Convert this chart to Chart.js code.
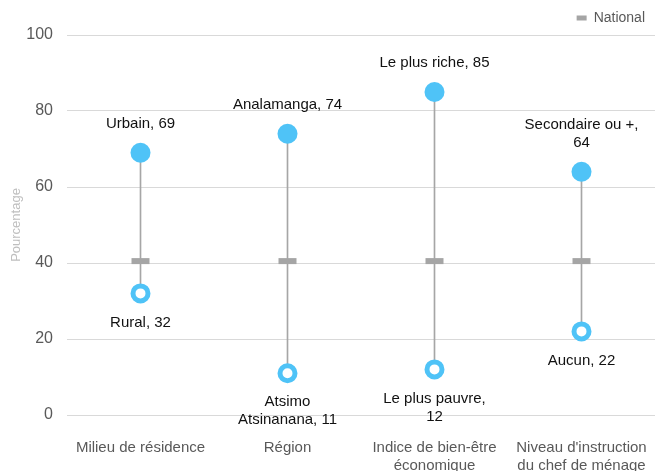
<!DOCTYPE html>
<html>
<head>
<meta charset="utf-8">
<script src="https://cdn.jsdelivr.net/npm/chart.js@4.4.1/dist/chart.umd.min.js"></script>
<style>
  html, body { margin: 0; padding: 0; background: #fff; }
  #wrap { width: 655px; height: 471px; position: relative; }
</style>
</head>
<body>
<div id="wrap"><canvas id="chart"></canvas></div>
<script>
var CATEGORIES = [
  ['Milieu de résidence'],
  ['Région'],
  ['Indice de bien-être', 'économique'],
  ["Niveau d'instruction", 'du chef de ménage']
];
var HIGH_VALUES = [69, 74, 85, 64];
var LOW_VALUES = [32, 11, 12, 22];
var NATIONAL = [40.5, 40.5, 40.5, 40.5];
// label text, "\n" marks where the original wraps
var HIGH_NAMES = ['Urbain, ', 'Analamanga, ', 'Le plus riche, ', 'Secondaire ou +,\n'];
var LOW_NAMES = ['Rural, ', 'Atsimo\nAtsinanana, ', 'Le plus pauvre,\n', 'Aucun, '];
var Y_TICKS = [0, 20, 40, 60, 80, 100];

var BLUE = '#4fc3f7';
var GREY_MARK = '#a5a5a5';
var FONT = '"Liberation Sans", Arial, sans-serif';

var LABEL_GAP = 29;
var LINE_H = 18;

var pointLabels = {
  id: 'pointLabels',
  afterDatasetsDraw: function (chart) {
    var c = chart.ctx;
    c.save();
    c.font = '15px ' + FONT;
    c.fillStyle = '#111111';
    c.textAlign = 'center';
    c.textBaseline = 'middle';
    chart.getDatasetMeta(0).data.forEach(function (pt, i) {
      var lines = (HIGH_NAMES[i] + HIGH_VALUES[i]).split('\n');
      lines.forEach(function (t, k) {
        c.fillText(t, pt.x, pt.y - LABEL_GAP - (lines.length - 1 - k) * LINE_H);
      });
    });
    chart.getDatasetMeta(1).data.forEach(function (pt, i) {
      var lines = (LOW_NAMES[i] + LOW_VALUES[i]).split('\n');
      lines.forEach(function (t, k) {
        c.fillText(t, pt.x, pt.y + LABEL_GAP + k * LINE_H);
      });
    });
    c.restore();
  }
};

new Chart(document.getElementById('chart'), {
  data: {
    labels: CATEGORIES,
    datasets: [
      {
        type: 'line',
        label: 'Haut',
        data: HIGH_VALUES,
        showLine: false,
        pointRadius: 10,
        pointBorderWidth: 0,
        pointBackgroundColor: BLUE,
        pointBorderColor: BLUE,
        order: 1
      },
      {
        type: 'line',
        label: 'Bas',
        data: LOW_VALUES,
        showLine: false,
        pointRadius: 7.5,
        pointBorderWidth: 5,
        pointBackgroundColor: '#ffffff',
        pointBorderColor: BLUE,
        order: 1
      },
      {
        type: 'line',
        label: 'National',
        data: NATIONAL,
        showLine: false,
        pointStyle: 'line',
        pointRadius: 9,
        pointBorderWidth: 6,
        pointBorderColor: GREY_MARK,
        borderColor: GREY_MARK,
        backgroundColor: GREY_MARK,
        order: 3
      },
      {
        type: 'bar',
        label: 'Écart',
        data: LOW_VALUES.map(function (v, i) { return [v, HIGH_VALUES[i]]; }),
        backgroundColor: '#a6a6a6',
        barThickness: 1,
        order: 4
      }
    ]
  },
  options: {
    responsive: true,
    maintainAspectRatio: false,
    animation: false,
    events: [],
    layout: { autoPadding: false, padding: { top: 1, right: 0, bottom: 0, left: 0 } },
    plugins: {
      tooltip: { enabled: false },
      legend: {
        position: 'top',
        align: 'end',
        labels: {
          color: '#595959',
          font: { family: FONT, size: 14 },
          boxWidth: 10,
          boxHeight: 5,
          padding: 10,
          generateLabels: function () {
            return [{
              text: 'National',
              fillStyle: GREY_MARK,
              strokeStyle: GREY_MARK,
              lineWidth: 0,
              fontColor: '#595959',
              datasetIndex: 2
            }];
          }
        }
      }
    },
    scales: {
      x: {
        grid: { display: false },
        border: { display: false },
        ticks: {
          color: '#595959',
          font: { family: FONT, size: 15 },
          maxRotation: 0,
          padding: 16
        },
        afterFit: function (s) {
          s.height = 56;
          s.paddingLeft = 0;
          s.paddingRight = 0;
        }
      },
      y: {
        min: 0,
        max: 100,
        afterBuildTicks: function (s) {
          s.ticks = Y_TICKS.map(function (v) { return { value: v }; });
        },
        grid: { color: '#d9d9d9', drawTicks: false },
        border: { display: false },
        ticks: {
          color: '#595959',
          font: { family: FONT, size: 16 },
          padding: 14
        },
        title: {
          display: true,
          text: 'Pourcentage',
          color: '#bfbfbf',
          font: { family: FONT, size: 13 },
          padding: { top: 9, bottom: 0 }
        },
        afterFit: function (s) { s.width = 67; }
      }
    }
  },
  plugins: [pointLabels]
});
</script>
</body>
</html>
